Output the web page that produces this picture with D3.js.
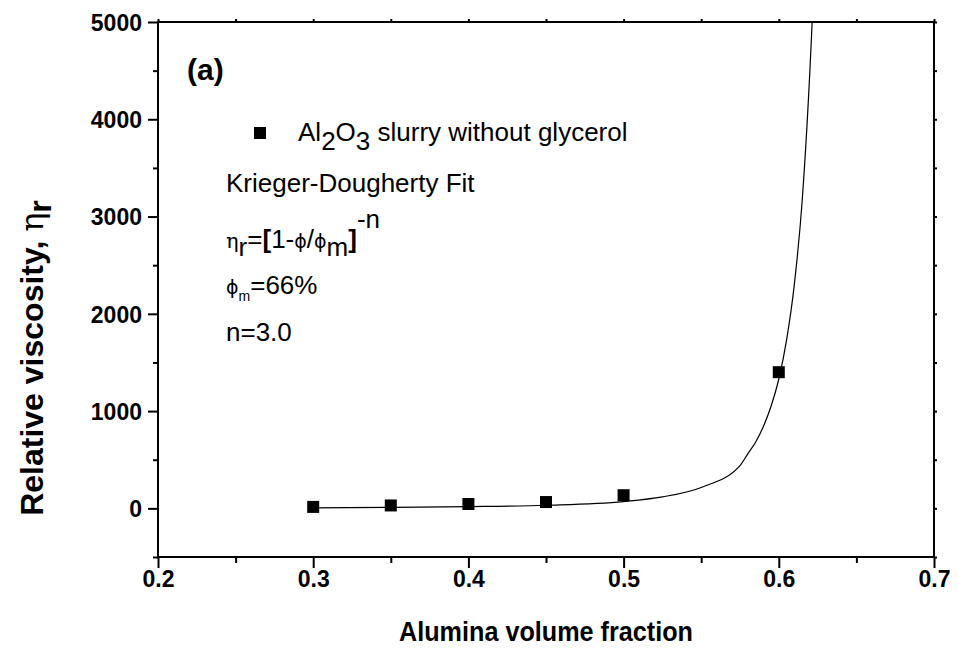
<!DOCTYPE html>
<html>
<head>
<meta charset="utf-8">
<script src="https://cdn.jsdelivr.net/npm/d3@7"></script>
<style>
  body { margin: 0; background: #fff; }
  text { font-family: "Liberation Sans", Arial, sans-serif; fill: #000; }
</style>
</head>
<body>
<svg id="chart"></svg>
<script>
// measured points
const fractions = [0.30, 0.35, 0.40, 0.45, 0.50, 0.60];
const viscosity = [15, 30, 45, 65, 135, 1400];

// Krieger-Dougherty fit curve
const fitX = [0.30, 0.35, 0.40, 0.45, 0.50, 0.525, 0.55, 0.575, 0.58, 0.585, 0.59, 0.595, 0.60, 0.605, 0.61, 0.615, 0.62, 0.6215, 0.623];
const fitY = [6, 11, 18, 32, 70, 118, 215, 440, 560, 680, 840, 1050, 1330, 1730, 2300, 3150, 4490, 5000, 5600];

const xTicks = [0.2, 0.3, 0.4, 0.5, 0.6, 0.7];
const xMinor = [0.25, 0.35, 0.45, 0.55, 0.65];
const yTicks = [0, 1000, 2000, 3000, 4000, 5000];
const yMinor = [-500, 500, 1500, 2500, 3500, 4500];

var width = 958, height = 660;
var margin = { left: 158, right: 24, top: 22, bottom: 103 };

var svg = d3.select("#chart")
  .attr("width", width)
  .attr("height", height);

var xScale = d3.scaleLinear()
  .domain([0.2, 0.7])
  .range([margin.left, width - margin.right]);

var yScale = d3.scaleLinear()
  .domain([-500, 5000])
  .range([height - margin.bottom, margin.top]);

var x0 = xScale.range()[0], x1 = xScale.range()[1];
var y0 = yScale.range()[0], y1 = yScale.range()[1];

/**
 * Draws one axis with its ticks and styles the strokes.
 */
function drawAxis(axis, transform, withText) {
  var g = svg.append("g")
    .attr("transform", transform)
    .call(axis);
  g.select(".domain").remove();
  g.selectAll(".tick line").attr("stroke", "#000").attr("stroke-width", 2);
  if (withText) {
    g.selectAll(".tick text")
      .style("font-family", "'Liberation Sans', Arial, sans-serif")
      .style("font-weight", "bold")
      .style("font-size", "23px")
      .attr("fill", "#000");
  } else {
    g.selectAll(".tick text").remove();
  }
  return g;
}

// left axis
var left = drawAxis(d3.axisLeft(yScale).tickValues(yTicks).tickSize(10).tickPadding(6)
  .tickFormat(d3.format("d")), "translate(" + x0 + ",0)", true);
left.selectAll(".tick text").attr("dy", "0.36em");
drawAxis(d3.axisLeft(yScale).tickValues(yMinor).tickSize(5), "translate(" + x0 + ",0)", false);

// bottom axis
var bottom = drawAxis(d3.axisBottom(xScale).tickValues(xTicks).tickSize(11).tickPadding(3)
  .tickFormat(d3.format(".1f")), "translate(0," + y0 + ")", true);
drawAxis(d3.axisBottom(xScale).tickValues(xMinor).tickSize(6), "translate(0," + y0 + ")", false);

// top and right axes, short ticks
drawAxis(d3.axisTop(xScale).tickValues(xTicks.concat(xMinor)).tickSize(3), "translate(0," + y1 + ")", false);
drawAxis(d3.axisRight(yScale).tickValues(yTicks.concat(yMinor)).tickSize(3), "translate(" + x1 + ",0)", false);

// frame
svg.append("rect")
  .attr("x", x0).attr("y", y1)
  .attr("width", x1 - x0).attr("height", y0 - y1)
  .attr("fill", "none")
  .attr("stroke", "#000")
  .attr("stroke-width", 2);

// fit curve
svg.append("clipPath").attr("id", "plot-clip")
  .append("rect")
  .attr("x", x0).attr("y", y1)
  .attr("width", x1 - x0).attr("height", y0 - y1);

var fit = fitX.map(function(d, i) { return [d, fitY[i]]; });
var line = d3.line()
  .x(function(d) { return xScale(d[0]); })
  .y(function(d) { return yScale(d[1]); })
  .curve(d3.curveMonotoneX);

svg.append("path")
  .datum(fit)
  .attr("clip-path", "url(#plot-clip)")
  .attr("fill", "none")
  .attr("stroke", "#000")
  .attr("stroke-width", 1.2)
  .attr("d", line);

// data squares
var sq = 12;
svg.selectAll(".pt")
  .data(fractions)
  .enter().append("rect")
  .attr("class", "pt")
  .attr("x", function(d) { return xScale(d) - sq / 2; })
  .attr("y", function(d, i) { return yScale(viscosity[i]) - sq / 2; })
  .attr("width", sq)
  .attr("height", sq)
  .attr("fill", "#000");

// panel label
svg.append("text")
  .attr("x", 187).attr("y", 80)
  .style("font-weight", "bold")
  .style("font-size", "30px")
  .text("(a)");

// legend
svg.append("rect")
  .attr("x", 254).attr("y", 127)
  .attr("width", sq).attr("height", sq)
  .attr("fill", "#000");

var leg = svg.append("text")
  .attr("x", 298).attr("y", 141)
  .style("font-size", "26px");
leg.append("tspan").text("Al");
leg.append("tspan").attr("dy", 9).text("2");
leg.append("tspan").attr("dy", -9).text("O");
leg.append("tspan").attr("dy", 9).text("3");
leg.append("tspan").attr("dy", -9).text(" slurry without glycerol");

svg.append("text")
  .attr("x", 226).attr("y", 192)
  .style("font-size", "26px")
  .text("Krieger-Dougherty Fit");

var serif = "'DejaVu Serif', 'Liberation Serif', serif";
var eq = svg.append("text")
  .attr("x", 226).attr("y", 248)
  .style("font-size", "26px");
eq.append("tspan").style("font-family", serif).style("font-size", "21px").text("η");
eq.append("tspan").attr("dy", 8).text("r");
eq.append("tspan").attr("dy", -8).text("=");
eq.append("tspan").style("font-weight", "bold").text("[");
eq.append("tspan").text("1-");
eq.append("tspan").style("font-family", "'DejaVu Sans', sans-serif").style("font-size", "19px").text("ϕ");
eq.append("tspan").text("/");
eq.append("tspan").style("font-family", "'DejaVu Sans', sans-serif").style("font-size", "19px").text("ϕ");
eq.append("tspan").attr("dy", 8).text("m");
eq.append("tspan").attr("dy", -8).style("font-weight", "bold").text("]");
eq.append("tspan").attr("dy", -20).text("-n");

var phi = svg.append("text")
  .attr("x", 226).attr("y", 294)
  .style("font-size", "26px");
phi.append("tspan").style("font-family", "'DejaVu Sans', sans-serif").style("font-size", "19px").text("ϕ");
phi.append("tspan").attr("dy", 7).style("font-size", "14px").text("m");
phi.append("tspan").attr("dy", -7).text("=66%");

svg.append("text")
  .attr("x", 226).attr("y", 341)
  .style("font-size", "26px")
  .text("n=3.0");

// axis titles
svg.append("text")
  .attr("transform", "translate(" + (x0 + x1) / 2 + ",641) scale(0.9,1)")
  .style("text-anchor", "middle")
  .style("font-weight", "bold")
  .style("font-size", "28px")
  .text("Alumina volume fraction");

var yt = svg.append("text")
  .attr("transform", "translate(43,358) rotate(-90)")
  .style("text-anchor", "middle")
  .style("font-weight", "bold")
  .style("font-size", "32px");
yt.append("tspan").text("Relative viscosity, ");
yt.append("tspan").style("font-family", serif).style("font-weight", "normal").text("η");
yt.append("tspan").attr("dy", 8).text("r");
</script>
</body>
</html>
